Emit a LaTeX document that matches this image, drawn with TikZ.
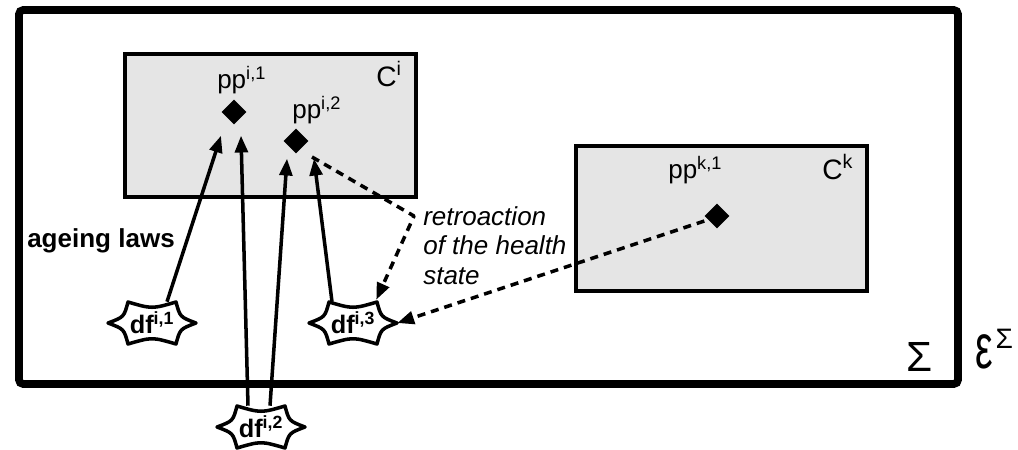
\documentclass[tikz,border=0pt]{standalone}
\usepackage{fontspec}
\setmainfont{Liberation Sans}
\usetikzlibrary{arrows.meta,positioning,shapes.geometric}
\definecolor{boxgray}{gray}{0.9}

% degradation factor: concave burst with its label
\newcommand{\degfactor}[3]{%
  \draw[burstline, shift={#2}] (-44,0) .. controls (-28,-6) .. (-24,-21)
    .. controls (0,-14) .. (24,-21) .. controls (28,-6) .. (44,0)
    .. controls (28,6) .. (24,21) .. controls (0,14) .. (-24,21)
    .. controls (-28,6) .. (-44,0) -- cycle;
  \node[dfnode] (#1) at #2 {#3};}

\begin{document}
\begin{tikzpicture}[x=0.025cm, y=-0.025cm,
    frame/.style={line width=5.5pt, rounded corners=3pt},
    comp/.style={draw, line width=2.8pt, fill=boxgray, anchor=north west, minimum width=7.275cm},
    point/.style={diamond, fill=black, inner sep=0pt, minimum size=0.62cm},
    dfnode/.style={inner sep=0pt, minimum width=2.2cm, minimum height=1.05cm, font=\fontsize{18}{20}\selectfont\bfseries},
    burstline/.style={line width=2.5pt, fill=white, line join=round},
    arrow/.style={-{Triangle[length=0.42cm, width=0.32cm]}, line width=2.5pt},
    retro/.style={arrow, dash pattern=on 0.2cm off 0.15cm, line join=round},
    txt/.style={font=\fontsize{18.5}{21}\selectfont, inner sep=0pt}
  ]
    \useasboundingbox (0,0) rectangle (1018,449);

    % system and its components
    \draw[frame] (19,10) rectangle (958,384);
    \node[comp, minimum height=3.575cm] (ci) at (123,52) {};
    \node[comp, minimum height=3.625cm] (ck) at (574,144) {};
    \node[txt, font=\fontsize{20}{22}\selectfont, anchor=base west] (cilabel) at (376,86) {C\textsuperscript{i}};
    \node[txt, font=\fontsize{20}{22}\selectfont, anchor=base west] (cklabel) at (822,179) {C\textsuperscript{k}};

    % physical parameters
    \node[point] (pp11) at (234,112) {};
    \node[point] (pp12) at (296,141) {};
    \node[point] (ppk1) at (717,216) {};
    \node[txt, anchor=base west] (pp11label) at (217,88) {pp\textsuperscript{i,1}};
    \node[txt, anchor=base west] (pp12label) at (292,118) {pp\textsuperscript{i,2}};
    \node[txt, anchor=base west] (ppk1label) at (668,178) {pp\textsuperscript{k,1}};

    % degradation factors
    \degfactor{df1}{(152,323)}{df\textsuperscript{i,1}}
    \degfactor{df2}{(261,427)}{df\textsuperscript{i,2}}
    \degfactor{df3}{(353,323)}{df\textsuperscript{i,3}}

    \node[txt, font=\fontsize{18.5}{21}\selectfont\bfseries, anchor=base west] (ageing) at (27,247) {ageing laws};
    \node[txt, font=\fontsize{18.5}{21}\selectfont\itshape, align=left, anchor=north west] (retrolabel) at (423,206) {retroaction\\of the health\\state};
    \node[font=\fontsize{30}{30}\selectfont] (sigma) at (920,357) {Σ};
    \node[font=\fontsize{28}{28}\selectfont, anchor=base west, inner sep=0pt] (env) at (975,368) {\scalebox{1}[1.6]{ε}\hspace{2pt}\raisebox{14pt}{\fontsize{20}{20}\selectfont Σ}};

    % ageing laws
    \draw[arrow] ([xshift=0.375cm]df1.north) -- ([xshift=-0.325cm,yshift=-0.275cm]pp11.south);
    \draw[arrow] ([xshift=-0.325cm]df2.north) -- ([xshift=0.175cm,yshift=-0.275cm]pp11.south);
    \draw[arrow] ([xshift=0.225cm]df2.north) -- ([xshift=-0.225cm,yshift=-0.125cm]pp12.south);
    \draw[arrow] ([xshift=-0.525cm]df3.north) -- ([xshift=0.45cm,yshift=-0.125cm]pp12.south);

    % retroaction
    \coordinate (bend) at (414,216);
    \draw[retro] ([xshift=0.4cm,yshift=-0.4cm]pp12.center) -- (bend) -- ([xshift=-0.525cm,yshift=0.05cm]df3.north east);
    \draw[retro] ([yshift=-0.125cm]ppk1.west) -- (df3.east);
  \end{tikzpicture}
\end{document}
